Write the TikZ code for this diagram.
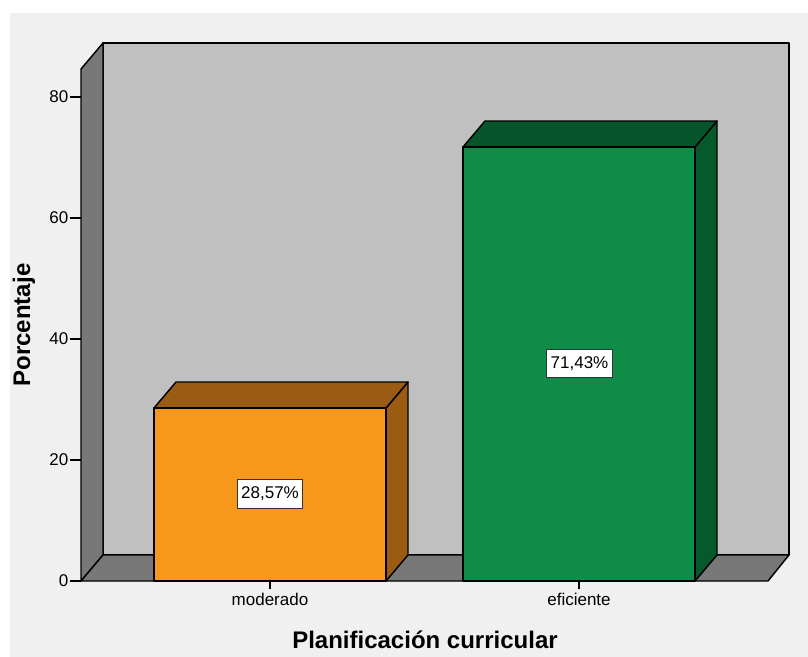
\documentclass[tikz,border=0pt]{standalone}
\usepackage{fontspec}
\setmainfont{Liberation Sans}
\definecolor{chartbg}{HTML}{F0F0F0}
\definecolor{backwall}{HTML}{C0C0C0}
\definecolor{sidewall}{HTML}{787878}
\definecolor{orangefront}{HTML}{F7981D}
\definecolor{orangedark}{HTML}{9A5B13}
\definecolor{greenfront}{HTML}{0F8C48}
\definecolor{greentop}{HTML}{07552A}
\definecolor{greenside}{HTML}{06592B}
\begin{document}
\begin{tikzpicture}[x=0.75pt,y=-0.75pt]
    \tikzstyle{face} = [draw=black,line width=1.1pt,line join=round]
    \tikzstyle{tick} = [draw=black,line width=0.9pt]
    \tikzstyle{ticklabel} = [font=\fontsize{12.75}{15}\selectfont,inner sep=1pt]
    \tikzstyle{pctbox} = [draw=black!80,fill=white,line width=0.9pt,inner xsep=3pt,minimum height=21.5pt,font=\fontsize{12.75}{15}\selectfont]
    \tikzstyle{axistitle} = [font=\bfseries\fontsize{18}{21}\selectfont]
    \useasboundingbox (0,0) rectangle (808,657);
    \fill[white] (0,0) rectangle (808,657);
    \fill[chartbg] (10,13) rectangle (808,657);
    % walls and floor
    \filldraw[face,fill=backwall] (103,43) -- (789,43) -- (789,555) -- (103,555) -- cycle;
    \filldraw[face,fill=sidewall] (81,69) -- (103,43) -- (103,555) -- (81,581) -- cycle;
    \filldraw[face,fill=sidewall] (81,581) -- (103,555) -- (789,555) -- (768,581) -- cycle;
    % y axis
    \foreach \v in {0,20,40,60,80}{
        \draw[tick] (70,581-\v*6.05) -- (81,581-\v*6.05);
        \node[ticklabel,anchor=east] at (70,581-\v*6.05) {\v};
    }
    % bars
    \foreach \xl/\ytop/\fc/\tc/\sc in {154/408/orangefront/orangedark/orangedark,463/147/greenfront/greentop/greenside}{
        \filldraw[face,fill=\sc] (\xl+232,\ytop) -- (\xl+254,\ytop-26) -- (\xl+254,555) -- (\xl+232,581) -- cycle;
        \filldraw[face,fill=\tc] (\xl,\ytop) -- (\xl+22,\ytop-26) -- (\xl+254,\ytop-26) -- (\xl+232,\ytop) -- cycle;
        \filldraw[face,fill=\fc] (\xl,581) rectangle (\xl+232,\ytop);
        \draw[tick] (\xl+116,581) -- (\xl+116,589);
    }
    \node (pctmod)[pctbox] at (270,494) {28,57\%};
    \node (pcteff)[pctbox] at (579.5,363.5) {71,43\%};
    \node (catmod)[ticklabel,anchor=north] at (270,592) {moderado};
    \node (cateff)[ticklabel,anchor=north] at (579,592) {eficiente};
    \node (xtitle)[axistitle] at (425,640) {Planificación curricular};
    \node (ytitle)[axistitle,rotate=90] at (24,325) {Porcentaje};
\end{tikzpicture}
\end{document}
